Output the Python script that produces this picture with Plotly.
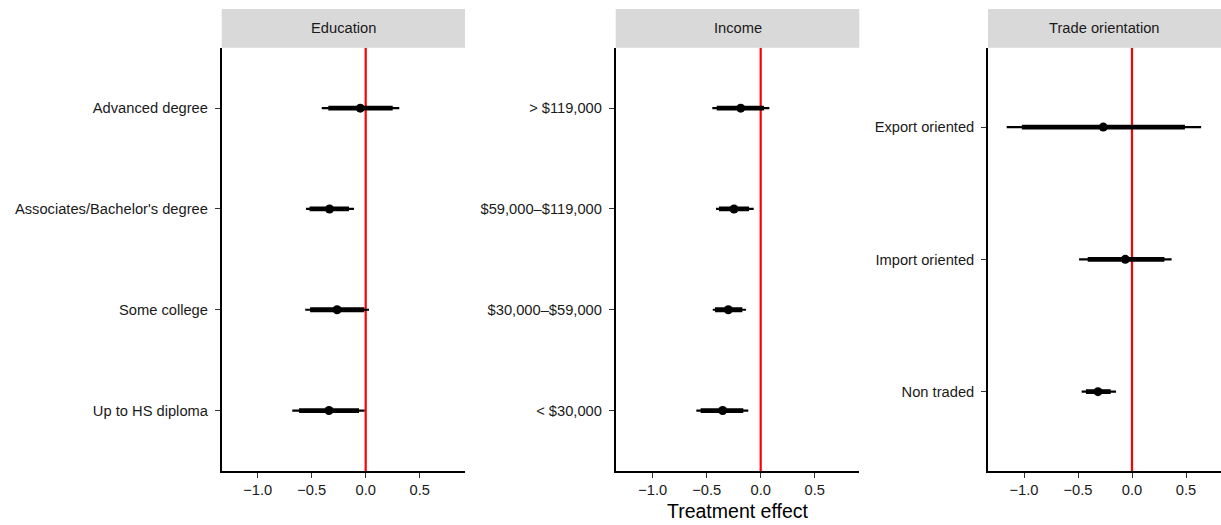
import plotly.graph_objects as go

W, H = 1221, 525

# ---------------- data ----------------
edu_labels = ["Up to HS diploma", "Some college", "Associates/Bachelor's degree", "Advanced degree"]
edu_est = [-0.34, -0.265, -0.335, -0.05]
edu_lo95 = [-0.68, -0.56, -0.553, -0.407]
edu_lo90 = [-0.617, -0.515, -0.52, -0.346]
edu_hi90 = [-0.062, -0.013, -0.155, 0.25]
edu_hi95 = [-0.01, 0.031, -0.108, 0.311]

inc_labels = ["< $30,000", "$30,000\u2013$59,000", "$59,000\u2013$119,000", "> $119,000"]
inc_est = [-0.352, -0.30, -0.247, -0.185]
inc_lo95 = [-0.596, -0.444, -0.414, -0.448]
inc_lo90 = [-0.556, -0.423, -0.386, -0.407]
inc_hi90 = [-0.161, -0.17, -0.108, 0.03]
inc_hi95 = [-0.115, -0.136, -0.065, 0.08]

trade_labels = ["Non traded", "Import oriented", "Export oriented"]
trade_est = [-0.315, -0.062, -0.266]
trade_lo95 = [-0.466, -0.49, -1.16]
trade_lo90 = [-0.426, -0.41, -1.02]
trade_hi90 = [-0.197, 0.30, 0.49]
trade_hi95 = [-0.148, 0.367, 0.64]

panel_titles = ["Education", "Income", "Trade orientation"]
x_ticks = [-1.0, -0.5, 0.0, 0.5]
x_title = "Treatment effect"

panels = [
    (edu_labels, edu_est, edu_lo95, edu_lo90, edu_hi90, edu_hi95),
    (inc_labels, inc_est, inc_lo95, inc_lo90, inc_hi90, inc_hi95),
    (trade_labels, trade_est, trade_lo95, trade_lo90, trade_hi90, trade_hi95),
]

# ---------------- layout geometry (pixels) ----------------
px_per_unit = 108.0
panel_px = [(221.7, 465.0, 365.7), (615.7, 859.3, 760.7), (988.0, 1221.0, 1132.0)]
plot_top, plot_bot = 47.7, 471.0
strip_top = 9.0

FONT = "Liberation Sans, Arial, Helvetica, sans-serif"
TXT = "#1A1A1A"

fig = go.Figure()

for i, (labels, est, lo95, lo90, hi90, hi95) in enumerate(panels):
    n = i + 1
    xa = "x" if n == 1 else f"x{n}"
    ya = "y" if n == 1 else f"y{n}"
    ypos = list(range(1, len(labels) + 1))
    # 95% interval (thin)
    fig.add_trace(go.Scatter(
        x=est, y=ypos, xaxis=xa, yaxis=ya, mode="markers",
        marker=dict(size=1, color="rgba(0,0,0,0)"),
        error_x=dict(type="data", symmetric=False,
                     array=[h - e for h, e in zip(hi95, est)],
                     arrayminus=[e - l for e, l in zip(est, lo95)],
                     width=0, thickness=2.2, color="black"),
        showlegend=False, hoverinfo="skip"))
    # 90% interval (thick)
    fig.add_trace(go.Scatter(
        x=est, y=ypos, xaxis=xa, yaxis=ya, mode="markers",
        marker=dict(size=9, color="black"),
        error_x=dict(type="data", symmetric=False,
                     array=[h - e for h, e in zip(hi90, est)],
                     arrayminus=[e - l for e, l in zip(est, lo90)],
                     width=0, thickness=4.8, color="black"),
        showlegend=False))

    x0, x1, xz = panel_px[i]
    xmin = (x0 - xz) / px_per_unit
    xmax = (x1 - xz) / px_per_unit
    dom = [x0 / W, x1 / W]
    key_x = "xaxis" if n == 1 else f"xaxis{n}"
    key_y = "yaxis" if n == 1 else f"yaxis{n}"
    fig.layout[key_x] = dict(
        domain=dom, range=[xmin, xmax], anchor=ya,
        tickvals=x_ticks, tickformat=".1f",
        showline=True, linecolor="black", linewidth=1.6,
        ticks="outside", ticklen=5, tickwidth=1.2, tickcolor="#333333",
        showgrid=False, zeroline=False,
        tickfont=dict(family=FONT, size=14.7, color=TXT), fixedrange=True)
    fig.layout[key_y] = dict(
        domain=[(H - plot_bot) / H, (H - plot_top) / H],
        range=[0.4, len(labels) + 0.6], anchor=xa,
        tickvals=ypos, ticktext=labels,
        showline=True, linecolor="black", linewidth=1.6,
        ticks="outside", ticklen=5, tickwidth=1.2, tickcolor="#333333",
        ticklabelstandoff=4,
        showgrid=False, zeroline=False,
        tickfont=dict(family=FONT, size=14.7, color=TXT), fixedrange=True)

    # red reference line at zero
    fig.add_shape(type="line", xref=xa, yref=f"{ya} domain",
                  x0=0, x1=0, y0=0, y1=1,
                  line=dict(color="#FF0000", width=2.2), layer="below")
    # strip
    fig.add_shape(type="rect", xref="paper", yref="paper",
                  x0=dom[0], x1=dom[1],
                  y0=(H - plot_top) / H, y1=(H - strip_top) / H,
                  fillcolor="#D9D9D9", line=dict(width=0), layer="below")
    fig.add_annotation(text=panel_titles[i], xref="paper", yref="paper",
                       x=(dom[0] + dom[1]) / 2,
                       y=(H - (plot_top + strip_top) / 2) / H,
                       xanchor="center", yanchor="middle", showarrow=False,
                       font=dict(family=FONT, size=14.7, color="#1A1A1A"))

# x-axis title under the middle panel
fig.add_annotation(text=x_title, xref="paper", yref="paper",
                   x=(panel_px[1][0] + panel_px[1][1]) / 2 / W,
                   y=(H - 511) / H, xanchor="center", yanchor="middle",
                   showarrow=False,
                   font=dict(family=FONT, size=19.5, color="black"))

fig.update_layout(
    width=W, height=H,
    margin=dict(l=0, r=0, t=0, b=0),
    paper_bgcolor="white", plot_bgcolor="white",
    showlegend=False,
)

fig.write_html("out.html", config={"displayModeBar": False},
               post_script="document.body.style.margin='0px';document.body.style.padding='0px';")
